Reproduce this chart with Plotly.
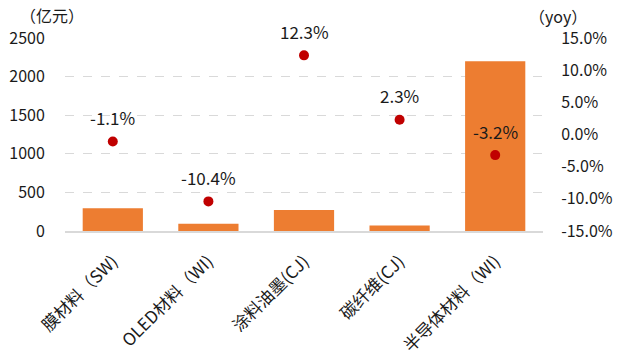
import plotly.graph_objects as go

# Category labels, market size (亿元) and year-over-year growth (%)
categories = ["膜材料（SW)", "OLED材料（WI)", "涂料油墨(CJ)", "碳纤维(CJ)", "半导体材料（WI)"]
market_size = [295, 95, 272, 70, 2200]
yoy_pct = [-1.1, -10.4, 12.3, 2.3, -3.2]

left_ticks = [0, 500, 1000, 1500, 2000, 2500]
right_ticks = [-15, -10, -5, 0, 5, 10, 15]

FONT = "Noto Sans CJK SC, Microsoft YaHei, sans-serif"
TXT = "#1a1a1a"

W, H = 617, 351
ML, MR, MT, MB = 65, 74, 38, 120

fig = go.Figure()

fig.add_trace(go.Bar(
    x=categories, y=market_size, yaxis="y",
    marker=dict(color="#ED7D31", line=dict(width=0)),
    width=0.63, showlegend=False,
))

fig.add_trace(go.Scatter(
    x=categories, y=yoy_pct, yaxis="y2", mode="markers",
    marker=dict(color="#C00000", size=10),
    showlegend=False, cliponaxis=False,
))

# growth labels sit above each dot
annotations = [
    dict(x=c, y=v, xref="x", yref="y2", text=f"{v:.1f}%", showarrow=False,
         yshift=24, font=dict(family=FONT, size=17, color=TXT))
    for c, v in zip(categories, yoy_pct)
]


def px_to_paper(xp, yp):
    return (xp - ML) / (W - ML - MR), (H - MB - yp) / (H - MT - MB)


for label, xp, yp in [("（亿元）", 18, 15), ("（yoy）", 527, 16)]:
    px, py = px_to_paper(xp, yp)
    annotations.append(dict(
        text=label, x=px, y=py, xref="paper", yref="paper",
        xanchor="left", yanchor="middle", showarrow=False,
        font=dict(family=FONT, size=16, color=TXT)))

fig.update_layout(
    width=W, height=H,
    margin=dict(l=ML, r=MR, t=MT, b=MB),
    paper_bgcolor="white", plot_bgcolor="white",
    font=dict(family=FONT, size=16, color=TXT),
    xaxis=dict(
        tickangle=-45, showgrid=False, showline=True, automargin=False,
        linecolor="#d9d9d9", linewidth=1.5,
        ticks="outside", ticklen=12, tickcolor="rgba(0,0,0,0)",
        tickfont=dict(family=FONT, size=17, color=TXT),
    ),
    yaxis=dict(
        range=[0, 2500], tickvals=left_ticks, automargin=False,
        showgrid=True, gridcolor="#d9d9d9", griddash="dash", gridwidth=1,
        zeroline=False, showline=False,
        ticks="outside", ticklen=16, tickcolor="rgba(0,0,0,0)",
        tickfont=dict(family=FONT, size=16, color=TXT),
    ),
    yaxis2=dict(
        range=[-15, 15], tickvals=right_ticks,
        ticktext=[f"{v:.1f}%" for v in right_ticks],
        overlaying="y", side="right", automargin=False,
        showgrid=False, zeroline=False, showline=False,
        ticks="outside", ticklen=14, tickcolor="rgba(0,0,0,0)",
        tickfont=dict(family=FONT, size=16, color=TXT),
    ),
    annotations=annotations,
)

fig.write_html("out.html")
